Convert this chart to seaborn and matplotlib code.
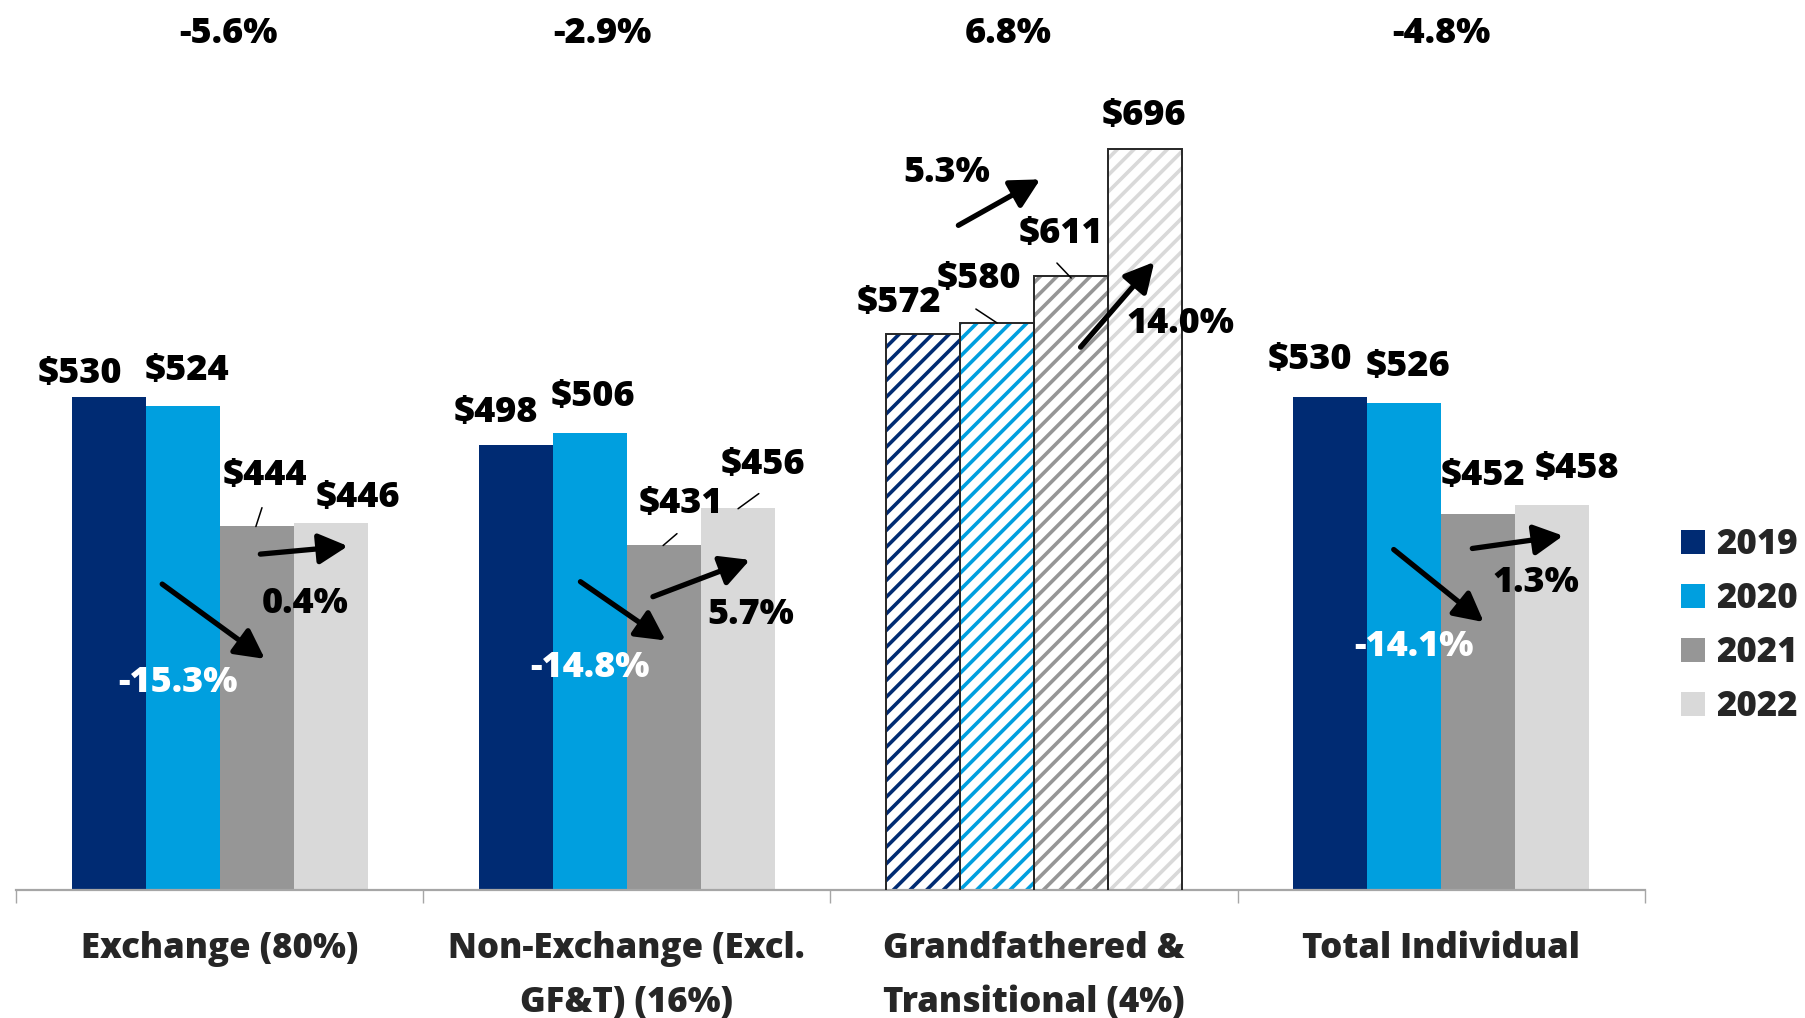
import matplotlib
matplotlib.use("Agg")
import matplotlib.pyplot as plt
import seaborn as sns
import pandas as pd
from matplotlib.patches import Rectangle, Patch

# ---------------- data ----------------
categories = ["Exchange (80%)", "Non-Exchange (Excl.\nGF&T) (16%)",
              "Grandfathered &\nTransitional (4%)", "Total Individual"]
years = ["2019", "2020", "2021", "2022"]
premium_2019 = [530, 498, 572, 530]
premium_2020 = [524, 506, 580, 526]
premium_2021 = [444, 431, 611, 452]
premium_2022 = [446, 456, 696, 458]
change_19_21 = ["-15.3%", "-14.8%", "5.3%", "-14.1%"]
change_21_22 = ["0.4%", "5.7%", "14.0%", "1.3%"]
change_19_22 = ["-5.6%", "-2.9%", "6.8%", "-4.8%"]
hatched_category = "Grandfathered &\nTransitional (4%)"

colors = ["#002B73", "#009FDF", "#969696", "#D9D9D9"]

series = [premium_2019, premium_2020, premium_2021, premium_2022]
rows = []
for y, vals in zip(years, series):
    for c, v in zip(categories, vals):
        rows.append({"category": c, "year": y, "premium": v})
df = pd.DataFrame(rows)

# ---------------- style ----------------
sns.set_style("white")
plt.rcParams["font.family"] = ["Open Sans", "DejaVu Sans"]
plt.rcParams["font.weight"] = "bold"
plt.rcParams["hatch.linewidth"] = 2.6

W = "heavy"

fig = plt.figure(figsize=(18.06, 10.18), dpi=100)
ax = fig.add_axes([16 / 1806, 1 - 890 / 1018, (1645 - 16) / 1806, 890 / 1018])

sns.barplot(data=df, x="category", y="premium", hue="year", order=categories,
            hue_order=years, palette=colors, saturation=1, width=0.727, gap=0,
            linewidth=0, legend=False, ax=ax)

ax.set_xlim(-0.5, 3.5)
ax.set_ylim(200, 796)


def yy(v):
    # layout helper: maps label heights measured on a 200-800 grid onto the axis
    return 200 + (v - 200) * 0.9935


# hatched bars for GF&T
gi = categories.index(hatched_category)
for cont, col in zip(ax.containers, colors):
    bar = cont.patches[gi]
    bar.set_facecolor("white")
    bar.set_edgecolor(col)
    bar.set_hatch("//")
    bar.set_linewidth(0)
    x0, y0 = bar.get_xy()
    ax.add_patch(Rectangle((x0, y0), bar.get_width(), bar.get_height(),
                           fill=False, edgecolor="#262626", linewidth=1.4, zorder=3))

# axes styling
for s in ["top", "left", "right"]:
    ax.spines[s].set_visible(False)
ax.spines["bottom"].set_color("#a6a6a6")
ax.spines["bottom"].set_linewidth(1.6)
ax.set_yticks([])
ax.set_xlabel("")
ax.set_ylabel("")
ax.set_xticks(range(len(categories)))
ax.set_xticklabels(categories, fontsize=25, fontweight=W, linespacing=1.66)
ax.set_xticks([i - 0.5 for i in range(len(categories) + 1)], minor=True)
ax.tick_params(axis="x", which="both", bottom=True)
ax.tick_params(axis="x", which="major", length=0, pad=29.5)
ax.tick_params(axis="x", which="minor", length=9.5, width=1.0, color="#a6a6a6")

# ---------------- annotations (layout) ----------------
FS = 26
value_label_pos = [
    [(-0.342, 548), (0.677, 521.7), (1.667, 596), (2.677, 557.4)],
    [(-0.081, 549.6), (0.917, 532.6), (1.865, 611.6), (2.917, 552.7)],
    [(0.111, 479), (1.132, 460.5), (2.066, 641.9), (3.101, 479)],
    [(0.340, 464), (1.333, 486.8), (2.269, 721.7), (3.333, 483.7)],
]
for vals, poss in zip(series, value_label_pos):
    for v, (x, y) in zip(vals, poss):
        ax.text(x, yy(y), f"${v}", ha="center", va="center", fontsize=FS,
                fontweight=W, color="black", zorder=5)

leaders = [((0.104, 457.7), (0.089, 445)), ((1.123, 440.2), (1.089, 432.2)),
           ((1.324, 467.2), (1.273, 457)), ((1.857, 591.6), (1.909, 582.2)),
           ((2.056, 622.6), (2.091, 612.5))]
for (xa, ya), (xb, yb) in leaders:
    ax.plot([xa, xb], [yy(ya), yy(yb)], color="black", lw=1.1, zorder=4)

arrow1 = [((-0.141, 406.2), (0.111, 355.8)), ((0.886, 407.8), (1.095, 368.2)),
          ((1.814, 648), (2.015, 679)), ((2.883, 429.5), (3.104, 380.6))]
arrow2 = [((0.100, 426.4), (0.315, 431.8)), ((1.064, 397.7), (1.302, 422.5)),
          ((2.114, 565.9), (2.295, 623.3)), ((3.076, 430.2), (3.299, 438.8))]
label1_pos = [(-0.101, 339.5), (0.909, 349.6), (1.786, 683), (2.934, 363.6)]
label1_col = ["white", "white", "black", "white"]
label2_pos = [(0.210, 393), (1.305, 385.3), (2.360, 581.4), (3.231, 407)]
top_pos = [(0.021, 777), (0.940, 777), (1.936, 777), (2.999, 777)]

aprops = dict(arrowstyle="-|>,head_length=0.8,head_width=0.42", lw=3.8,
              color="black", mutation_scale=22, shrinkA=0, shrinkB=0)
for (s, e) in arrow1 + arrow2:
    ax.annotate("", xy=(e[0], yy(e[1])), xytext=(s[0], yy(s[1])),
                arrowprops=aprops, zorder=6)

for txt, (x, y), c in zip(change_19_21, label1_pos, label1_col):
    ax.text(x, yy(y), txt, ha="center", va="center", fontsize=FS, fontweight=W,
            color=c, zorder=7)
for txt, (x, y) in zip(change_21_22, label2_pos):
    ax.text(x, yy(y), txt, ha="center", va="center", fontsize=FS, fontweight=W,
            color="black", zorder=7)
for txt, (x, y) in zip(change_19_22, top_pos):
    ax.text(x, yy(y), txt, ha="center", va="center", fontsize=FS, fontweight=W,
            color="black", zorder=7)

# legend
handles = [Patch(facecolor=c, edgecolor="none") for c in colors]
fig.legend(handles, years, loc="center left",
           bbox_to_anchor=(1681 / 1806, 1 - 626 / 1018),
           frameon=False, handlelength=0.7, handleheight=0.7,
           handletextpad=0.32, labelspacing=0.52, borderpad=0, borderaxespad=0,
           prop={"weight": W, "size": 25})

fig.savefig("out.png", dpi=100)
